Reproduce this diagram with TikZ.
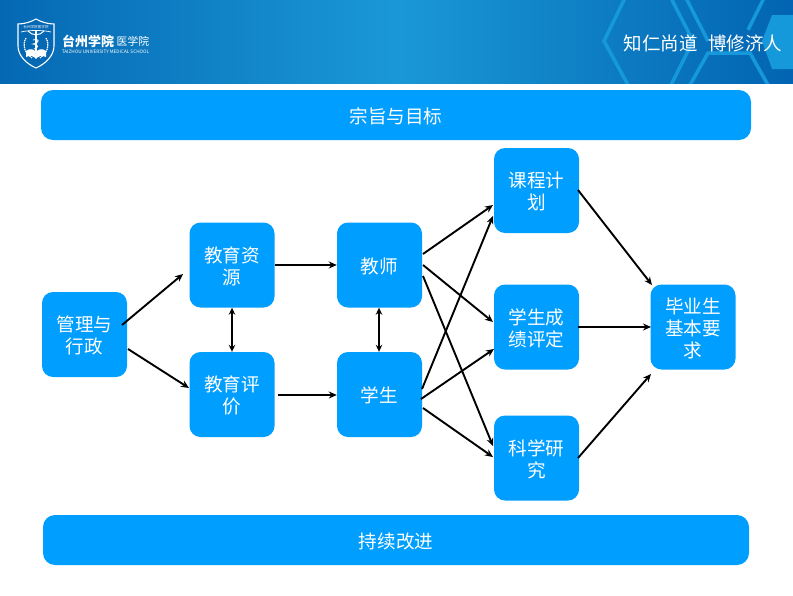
\documentclass[tikz,border=0pt]{standalone}
\usepackage{fontspec}
\setmainfont{Noto Sans CJK SC}
\usetikzlibrary{arrows.meta}
\definecolor{boxblue}{HTML}{009EFF}
\definecolor{hdA}{HTML}{0568B4}
\definecolor{hdB}{HTML}{1A98D6}
\definecolor{hdC}{HTML}{0264B2}
\definecolor{hexline}{HTML}{1599DB}
\newcommand{\dn}[1]{\raisebox{-1pt}[\height][\depth]{#1}}
\tikzset{
 flowbox/.style={fill=boxblue,rounded corners=11pt,minimum width=85pt,minimum height=85pt,align=center,text=white,font=\fontsize{18.6}{22}\selectfont,inner sep=0pt},
 bar/.style={fill=boxblue,rounded corners=12pt,text=white,font=\fontsize{18.6}{22}\selectfont,inner sep=0pt,minimum height=50pt},
 link/.style={draw=black,line width=1.9pt,-{Stealth[length=8pt,width=7pt]}},
 both/.style={draw=black,line width=1.9pt,{Stealth[length=7pt,width=6.5pt]}-{Stealth[length=7pt,width=6.5pt]}},
 hexa/.style={draw=hexline,line width=3.5pt,line join=miter},
 logoline/.style={draw=white,line width=0.7pt},
}
\begin{document}
\begin{tikzpicture}[x=1pt,y=-1pt]
\useasboundingbox (0,0) rectangle (793,595);
\fill[white] (0,0) rectangle (793,595);
% header
\begin{scope}
\clip (0,0) rectangle (793,83);
\fill[left color=hdA,right color=hdC,middle color=hdB] (0,0) rectangle (793,83);
\draw[hexa] (625,-2) -- (604,41) -- (628,85);
\draw[hexa] (671,-2) -- (693,41) -- (671,85);
\draw[hexa] (686,-2) -- (708,41);
\draw[hexa] (690,85) -- (708,53) -- (750,53) -- (768,85);
\draw[hexa] (764,-2) -- (748,30);
\fill[hexline] (772,15) -- (762,41) -- (772,69) -- (795,69) -- (795,15) -- cycle;
\end{scope}
% logo
\draw[draw=white,line width=1.1pt,fill=hdA] (18,24) .. controls (24,24) and (31,22) .. (36,19) .. controls (41,22) and (48,24) .. (54,24) -- (54,46) .. controls (54,56) and (45,64) .. (36,68) .. controls (27,64) and (18,56) .. (18,46) -- cycle;
\draw[logoline] (21,32) .. controls (28,30) and (44,30) .. (51,32);
\node[text=white,font=\fontsize{3.6}{4}\selectfont,inner sep=0pt] (shieldtext) at (36,27) {台州学院医学院};
\draw[white,line width=1.3pt,line cap=round] (36,31) -- (36,52);
\draw[white,line width=1pt] (28,31) .. controls (32,36) and (40,36) .. (44,31);
\draw[white,line width=0.8pt] (33,40) .. controls (40,38) and (40,43) .. (33,44) .. controls (40,45) and (38,48) .. (34,49);
\draw[white,line width=1.2pt,dash pattern=on 1.5pt off 0.7pt] (26,38) .. controls (22,45) and (24,52) .. (32,58);
\draw[white,line width=1.2pt,dash pattern=on 1.5pt off 0.7pt] (46,38) .. controls (50,45) and (48,52) .. (40,58);
\fill[white] (26,51) .. controls (30,48) and (34,49) .. (36,52) .. controls (38,49) and (42,48) .. (46,51) -- (46,57) .. controls (42,55) and (38,56) .. (36,59) .. controls (34,56) and (30,55) .. (26,57) -- cycle;
\node[text=white,font=\bfseries\fontsize{13}{14}\selectfont,inner sep=0pt,anchor=west] (logoA) at (62,41) {台州学院};
\node[text=white,font=\fontsize{10.8}{11}\selectfont,inner sep=0pt,anchor=west] (logoC) at (116.5,41.5) {医学院};
\node[text=white,font=\fontsize{4.7}{5}\selectfont,inner sep=0pt] (logoB) at (105.5,52) {TAIZHOU UNIVERSITY MEDICAL SCHOOL};
\node[text=white,font=\fontsize{18.5}{19}\selectfont,inner sep=0pt] (motto) at (703,43) {知仁尚道\hspace{11pt}博修济人};
% bars
\node[bar,minimum width=710pt] (goal) at (396,115) {\dn{宗旨与目标}};
\node[bar,minimum width=706pt] (improve) at (396,540) {\dn{持续改进}};
% boxes
\node[flowbox] (admin) at (84.5,334.5) {\dn{管理与}\\\dn{行政}};
\node[flowbox] (res) at (232,265) {\dn{教育资}\\\dn{源}};
\node[flowbox] (eval) at (232,394.5) {\dn{教育评}\\\dn{价}};
\node[flowbox] (teacher) at (379.5,265) {\dn{教师}};
\node[flowbox] (student) at (379.5,394.5) {\dn{学生}};
\node[flowbox] (course) at (536.5,190.5) {\dn{课程计}\\\dn{划}};
\node[flowbox] (assess) at (536.5,327) {\dn{学生成}\\\dn{绩评定}};
\node[flowbox] (science) at (536.5,458) {\dn{科学研}\\\dn{究}};
\node[flowbox] (grad) at (693,327) {\dn{毕业生}\\\dn{基本要}\\\dn{求}};
% connector ends
\coordinate (a1) at (122,325); \coordinate (a2) at (183,274);
\coordinate (b1) at (128,349); \coordinate (b2) at (189,388);
\draw[link] (a1) -- (a2);
\draw[link] (b1) -- (b2);
\draw[link] (res.east) -- (teacher.west);
\draw[link] ([xshift=3pt,yshift=-0.5pt]eval.east) -- ([yshift=-0.5pt]student.west);
\draw[both] (res.south) -- (eval.north);
\draw[both] ([xshift=-0.5pt]teacher.south) -- ([xshift=-0.5pt]student.north);
\coordinate (t1) at (423,254); \coordinate (t2) at (423,265); \coordinate (t3) at (423,276);
\coordinate (s1) at (422,389); \coordinate (s2) at (421,399); \coordinate (s3) at (423,408);
\coordinate (c1) at (493,205); \coordinate (c2) at (493,216);
\coordinate (m1) at (493,322); \coordinate (m2) at (494,349);
\coordinate (l1) at (493,446); \coordinate (l2) at (493,457);
\draw[link] (t1) -- (c1);
\draw[link] (t2) -- (m1);
\draw[link] (t3) -- (l1);
\draw[link] (s1) -- (c2);
\draw[link] (s2) -- (m2);
\draw[link] (s3) -- (l2);
\coordinate (o1) at (578,190); \coordinate (o2) at (652,285);
\coordinate (o3) at (578,327); \coordinate (o4) at (651,327);
\coordinate (o5) at (578,458); \coordinate (o6) at (651,374);
\draw[link] (o1) -- (o2);
\draw[link] (o3) -- (o4);
\draw[link] (o5) -- (o6);
\end{tikzpicture}
\end{document}
